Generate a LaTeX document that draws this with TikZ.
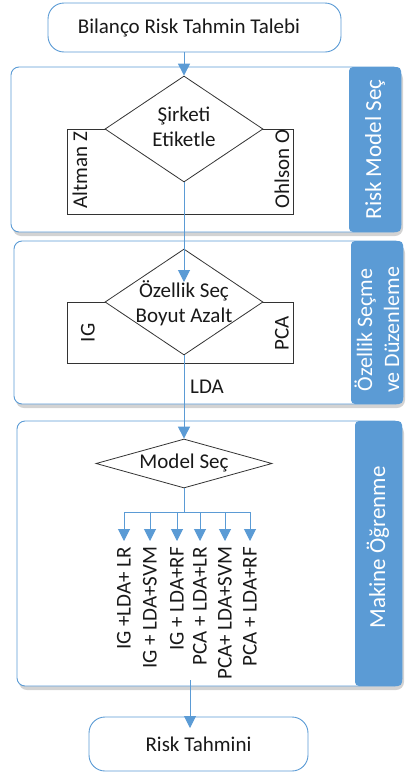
\documentclass[tikz,border=0pt]{standalone}
\usepackage{fontspec}
\setmainfont{Carlito}
\usetikzlibrary{shapes.geometric,arrows.meta,shadows}

\definecolor{mavi}{RGB}{91,155,213}
\definecolor{yazi}{RGB}{25,25,25}

\tikzset{
  every node/.style={font=\fontsize{21}{25}\selectfont, text=yazi},
  ucbox/.style={draw=mavi, line width=0.9pt, fill=white, rounded corners=16pt, inner sep=0pt},
  grup/.style={draw=mavi, line width=0.9pt, fill=white, rounded corners=8pt, inner sep=0pt,
    drop shadow={shadow xshift=2pt, shadow yshift=-4pt, opacity=0.35}},
  bant/.style={fill=mavi, rounded corners=4pt, inner sep=0pt},
  bantyazi/.style={text=white, rotate=90, align=center, font=\fontsize{23}{28}\selectfont},
  kutu/.style={draw=black!80, line width=0.8pt, inner sep=0pt},
  karar/.style={diamond, draw=black!80, line width=0.8pt, fill=white, inner sep=0pt},
  dik/.style={rotate=90},
  model/.style={rotate=90, anchor=east, inner sep=0pt, outer sep=6pt},
  akis/.style={draw=mavi, line width=1pt, -{Triangle[width=12pt,length=12pt]}},
  hat/.style={draw=mavi, line width=1pt}
}

\begin{document}
\begin{tikzpicture}[x=1pt,y=-1pt]
\useasboundingbox (0,0) rectangle (406,774);

% start and end
\node[ucbox, minimum width=293pt, minimum height=49pt] (talep) at (194.5,27.5) {};
\node at (189,28) {Bilanço Risk Tahmin Talebi};
\node[ucbox, minimum width=219pt, minimum height=54pt] (tahmin) at (198.5,744) {Risk Tahmini};

% the three stages
\node[grup, minimum width=390pt, minimum height=165pt] (g1) at (206,149.5) {};
\node[bant, minimum width=52pt, minimum height=165pt] (b1) at (375,149.5) {};
\node[bantyazi] at (b1) {Risk Model Seç};

\node[grup, minimum width=389pt, minimum height=163pt] (g2) at (208.5,322.5) {};
\node[bant, minimum width=52pt, minimum height=163pt] (b2) at (377,322.5) {};
\node[bantyazi, font=\fontsize{22}{27}\selectfont] at (377,330) {Özellik Seçme\\ve Düzenleme};

\node[grup, minimum width=385pt, minimum height=265pt] (g3) at (209.5,553.5) {};
\node[bant, minimum width=47pt, minimum height=265pt] (b3) at (378.5,553.5) {};
\node[bantyazi] at (378,547.5) {Makine Öğrenme};

% risk model
\node[kutu, minimum width=226pt, minimum height=85pt] (r1) at (180,171.5) {};
\node[dik] (altman) at (80,170) {Altman Z};
\node[dik] (ohlson) at (282,169) {Ohlson O};
\node[karar, minimum width=158pt, minimum height=106pt] (secim1) at (184,129) {};
\node[align=center] at (184,127) {Şirketi\\Etiketle};

% feature selection
\node[kutu, minimum width=226pt, minimum height=61pt] (r2) at (180,332.5) {};
\node[dik] (ig) at (88,333) {IG};
\node[dik] (pca) at (282,333) {PCA};
\node[karar, minimum width=158pt, minimum height=106pt] (secim2) at (184,302) {};
\node[align=center] at (184,303) {Özellik Seç\\Boyut Azalt};
\node (lda) at (207,387) {LDA};

% model choice
\node[karar, minimum width=176pt, minimum height=49pt] (secim3) at (184,463.5) {};
\node at (184,463) {Model Seç};

\coordinate (ok2) at (184,282);
\coordinate (dal) at (184,512);
\coordinate (cikis) at (190,680);
\coordinate (giris) at (190,728);

\draw[akis] (talep.south -| secim1.north) -- (secim1.north);
\draw[akis] (secim1.south) -- (ok2);
\draw[akis] (secim2.south) -- (secim3.north);
\draw[hat] (secim3.south) -- (dal);

\foreach \x/\ad/\yazi in {124/m1/IG +LDA+ LR, 150/m2/IG + LDA+SVM, 177/m3/IG + LDA+RF,
                          200/m4/PCA + LDA+LR, 225/m5/PCA+ LDA+SVM, 250/m6/PCA + LDA+RF}
{
  \node[model] (\ad) at (\x,541) {\yazi};
  \draw[akis] (dal) -| (\ad.east);
}

\draw[akis] (cikis) -- (giris);

\end{tikzpicture}
\end{document}
